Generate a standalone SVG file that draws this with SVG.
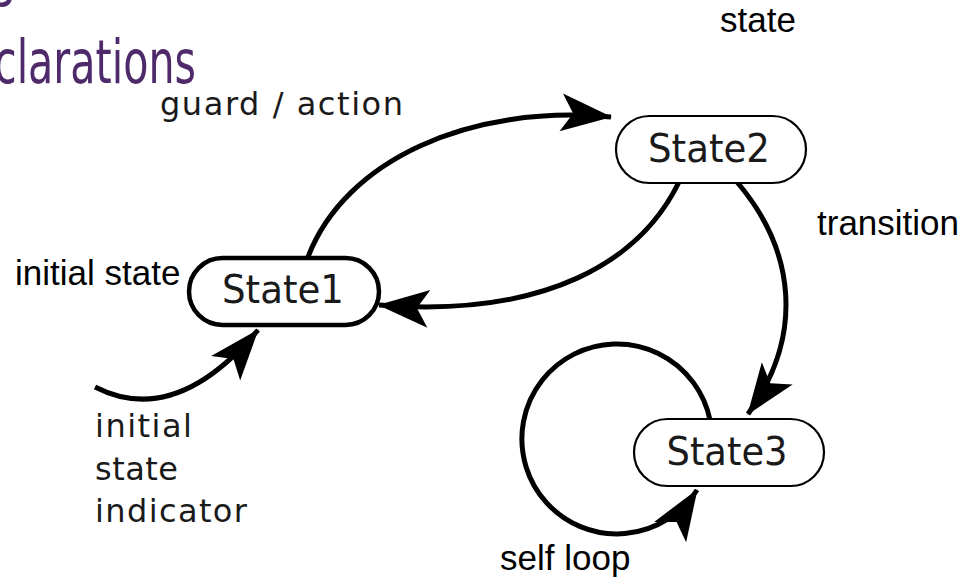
<svg xmlns="http://www.w3.org/2000/svg" width="963" height="585" viewBox="0 0 963 585">
  <style>
    .title { font-family: "Liberation Sans Narrow", "DejaVu Sans Condensed", "Noto Sans", sans-serif; font-size: 60px; fill: #4f2a6b; }
    .state { fill: #ffffff; stroke: #000000; }
    .state-label { font-family: "DejaVu Sans", "Noto Sans", sans-serif; font-size: 39px; fill: #1a1a1a; text-anchor: middle; }
    .note { font-family: "DejaVu Sans", "Noto Sans", sans-serif; font-size: 32px; fill: #1a1a1a; }
    .callout { font-family: "Liberation Sans", Arial, sans-serif; font-size: 35px; fill: #000000; }
    .edge { fill: none; stroke: #000000; stroke-width: 5; }
  </style>
  <defs>
    <marker id="head" markerUnits="userSpaceOnUse" markerWidth="56" markerHeight="44" viewBox="-54 -22 56 44" refX="0" refY="0" orient="auto">
      <path d="M1,0 L-50,-19 L-38,0 L-50,19 Z" fill="#000000"/>
    </marker>
  </defs>

  <!-- slide title, clipped at the left edge -->
  <g id="title">
    <text class="title" x="-11" y="-6" textLength="28" lengthAdjust="spacingAndGlyphs">g</text>
    <text class="title" x="-6" y="83" textLength="202" lengthAdjust="spacingAndGlyphs">clarations</text>
  </g>

  <!-- transitions -->
  <g id="connectors">
    <path class="edge" d="M308,257 C345,160 470,104 611,117" marker-end="url(#head)"/>
    <path class="edge" d="M679,182 C640,262 545,318 379,305" marker-end="url(#head)"/>
    <path class="edge" d="M737,182 C795,250 805,335 748,414" marker-end="url(#head)"/>
    <path class="edge" d="M710,420 A95,95 0 1 0 697,490" marker-end="url(#head)"/>
    <path class="edge" d="M95,387 Q175,428 258,330" marker-end="url(#head)"/>
  </g>

  <g id="state1">
    <rect class="state" x="189" y="258" width="190" height="67" rx="33.5" stroke-width="4.5"/>
    <text class="state-label" x="283" y="303" textLength="122" lengthAdjust="spacingAndGlyphs">State1</text>
  </g>
  <g id="state2">
    <rect class="state" x="616" y="116" width="190" height="67" rx="33.5" stroke-width="2.2"/>
    <text class="state-label" x="709" y="162" textLength="122" lengthAdjust="spacingAndGlyphs">State2</text>
  </g>
  <g id="state3">
    <rect class="state" x="634" y="419" width="190" height="67" rx="33.5" stroke-width="2.2"/>
    <text class="state-label" x="727" y="465" textLength="121" lengthAdjust="spacingAndGlyphs">State3</text>
  </g>

  <!-- edge and element annotations -->
  <g id="notes">
    <text class="note" x="160" y="115" textLength="243" lengthAdjust="spacing">guard / action</text>
    <text class="note" x="95" y="437" textLength="97" lengthAdjust="spacing">initial</text>
    <text class="note" x="95" y="480" textLength="83" lengthAdjust="spacing">state</text>
    <text class="note" x="95" y="522" textLength="152" lengthAdjust="spacing">indicator</text>
  </g>
  <g id="callouts">
    <text class="callout" x="720" y="32">state</text>
    <text class="callout" x="817" y="235">transition</text>
    <text class="callout" x="15" y="285">initial state</text>
    <text class="callout" x="500" y="570">self loop</text>
  </g>
</svg>
